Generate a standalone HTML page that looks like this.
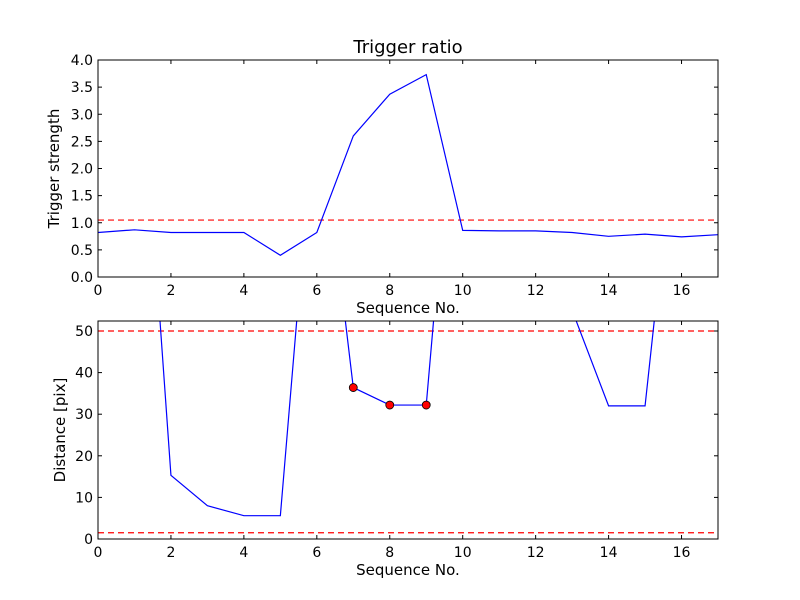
<!DOCTYPE html>
<html><head><meta charset="utf-8"><style>
body{margin:0;background:#fff;}
svg{display:block;font-family:"DejaVu Sans","Liberation Sans",sans-serif;}
</style></head><body>
<svg id="chart" width="800" height="600">
<rect width="800" height="600" fill="#fff"/>
</svg>
<script>
const seq = [0,1,2,3,4,5,6,7,8,9,10,11,12,13,14,15,16,17];
const strength = [0.82,0.87,0.82,0.82,0.82,0.40,0.82,2.60,3.37,3.73,0.86,0.85,0.85,0.82,0.75,0.79,0.74,0.78];
const strengthThreshold = 1.05;
const distSeq = [1,2,3,4,5,6,7,8,9,10,11,12,13,14,15,16];
const distance = [139,15.3,8,5.6,5.6,110,36.4,32.2,32.2,133,133,133,55,32,32,113];
const markerSeq = [7,8,9];
const markerDist = [36.4,32.2,32.2];
const distThresholds = [50,1.5];
const xTicks = [0,2,4,6,8,10,12,14,16];
const yTicksTop = [0.0,0.5,1.0,1.5,2.0,2.5,3.0,3.5,4.0];
const yTicksBot = [0,10,20,30,40,50];

const NS='http://www.w3.org/2000/svg';
const svgEl=document.getElementById('chart');
function mk(tag,attrs,parent){const e=document.createElementNS(NS,tag);for(const k in attrs)e.setAttribute(k,attrs[k]);(parent||svgEl).appendChild(e);return e;}
const L=98,R=718;
const sx=v=>L+(v-0)/(17-0)*(R-L);
const axTop={t:60,b:277,min:0,max:4};
const axBot={t:321,b:539,min:0,max:(539-321)/((539-331)/50)};
const syT=v=>axTop.b-(v-axTop.min)/(axTop.max-axTop.min)*(axTop.b-axTop.t);
const syB=v=>axBot.b-(v-axBot.min)/(axBot.max-axBot.min)*(axBot.b-axBot.t);

const defs=mk('defs',{});
const cp=mk('clipPath',{id:'clipB'},defs);
mk('rect',{x:L,y:axBot.t,width:R-L,height:axBot.b-axBot.t},cp);
const cpt=mk('clipPath',{id:'clipT'},defs);
mk('rect',{x:L,y:axTop.t,width:R-L,height:axTop.b-axTop.t},cpt);

function axes(ax,sy,yt,fmt,name){
  const g=mk('g',{});
  
  
  xTicks.forEach(v=>{
    const x=sx(v);
    mk('line',{x1:x,x2:x,y1:ax.b,y2:ax.b-4,stroke:'#000'},g);
    mk('line',{x1:x,x2:x,y1:ax.t,y2:ax.t+4,stroke:'#000'},g);
    const t=mk('text',{x:x,y:ax.b+18,'text-anchor':'middle','font-size':'14'},g);
    t.textContent=v;
    
    
  });
  yt.forEach(v=>{
    const y=sy(v);
    mk('line',{x1:L,x2:L+4,y1:y,y2:y,stroke:'#000'},g);
    mk('line',{x1:R,x2:R-4,y1:y,y2:y,stroke:'#000'},g);
    const t=mk('text',{x:L-5,y:y+5,'text-anchor':'end','font-size':'14'},g);
    t.textContent=fmt(v);
    
    
  });
  const xl=mk('text',{x:(L+R)/2,y:ax.b+36,'text-anchor':'middle','font-size':'15'},g);
  xl.textContent='Sequence No.';
  
  
  return g;
}
axes(axTop,syT,yTicksTop,v=>v.toFixed(1),'top');
axes(axBot,syB,yTicksBot,v=>String(v),'bottom');

const lt=mk('line',{x1:L,x2:R,y1:syT(strengthThreshold),y2:syT(strengthThreshold),stroke:'#f00','stroke-dasharray':'6,4','stroke-width':1.2});


const pt=mk('polyline',{points:seq.map((s,i)=>sx(s)+','+syT(strength[i])).join(' '),fill:'none',stroke:'#00f','stroke-width':1.2,'clip-path':'url(#clipT)'});



distThresholds.forEach(v=>{
  const l=mk('line',{x1:L,x2:R,y1:syB(v),y2:syB(v),stroke:'#f00','stroke-dasharray':'6,4','stroke-width':1.2});
  
  
});
const pb=mk('polyline',{points:distSeq.map((s,i)=>sx(s)+','+syB(distance[i])).join(' '),fill:'none',stroke:'#00f','stroke-width':1.2,'clip-path':'url(#clipB)'});


markerSeq.forEach((s,i)=>{
  const c=mk('circle',{cx:sx(s),cy:syB(markerDist[i]),r:4,fill:'#f00',stroke:'#000','stroke-width':0.8});
  
  
});

mk('rect',{x:L,y:axTop.t,width:R-L,height:axTop.b-axTop.t,fill:'none',stroke:'#000'});
mk('rect',{x:L,y:axBot.t,width:R-L,height:axBot.b-axBot.t,fill:'none',stroke:'#000'});

const title=mk('text',{x:(L+R)/2,y:53,'text-anchor':'middle','font-size':'18'});
title.textContent='Trigger ratio';


const yl1=mk('text',{x:0,y:0,'text-anchor':'middle','font-size':'15',transform:'translate(59,'+((axTop.t+axTop.b)/2)+') rotate(-90)'});
yl1.textContent='Trigger strength';


const yl2=mk('text',{x:0,y:0,'text-anchor':'middle','font-size':'15',transform:'translate(65,'+((axBot.t+axBot.b)/2)+') rotate(-90)'});
yl2.textContent='Distance [pix]';


</script>
</body></html>
